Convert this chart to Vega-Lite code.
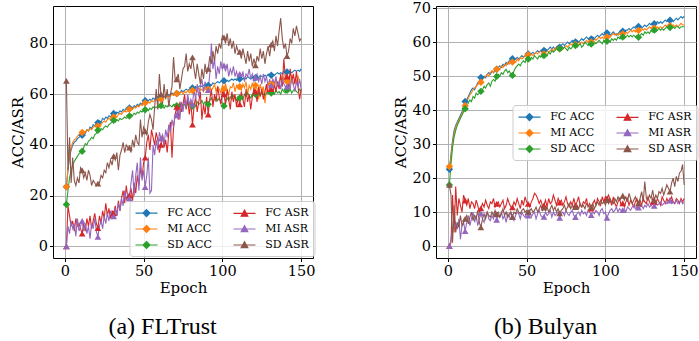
{
"$schema": "https://vega.github.io/schema/vega-lite/v6.json",
"padding": {"left": 9, "top": -1, "right": 0, "bottom": 0},
"background": "white",
"spacing": 76,
"config": {
  "view": {"stroke": "black", "strokeWidth": 1},
  "axis": {"labelFont": "DejaVu Serif", "labelFontSize": 14.5, "labelColor": "black", "titleFont": "DejaVu Serif", "titleFontSize": 15, "titleFontWeight": "normal", "titleColor": "black", "tickColor": "black", "tickSize": 3.5, "tickWidth": 1, "domain": false, "gridColor": "#b0b0b0", "gridWidth": 1, "gridOpacity": 1},
  "axisX": {"labelPadding": 3, "titlePadding": 2},
  "axisY": {"labelPadding": 2, "titlePadding": 4},
  "legend": {"orient": "none", "columns": 2, "title": null, "labelFont": "DejaVu Serif", "labelFontSize": 11, "labelColor": "black", "symbolSize": 144, "symbolStrokeWidth": 1.2, "symbolOpacity": 1, "fillColor": "rgba(255,255,255,0.8)", "strokeColor": "#cccccc", "padding": 5, "cornerRadius": 3, "rowPadding": 3, "columnPadding": 18, "labelOffset": 18.7}
},
"datasets": {
"fltrust": [
{"e":1,"FC ACC":23.5,"MI ACC":23.5,"SD ACC":16.5,"FC ASR":0,"MI ASR":0,"SD ASR":65.3},
{"e":2,"FC ACC":30,"MI ACC":31,"SD ACC":22,"FC ASR":16,"MI ASR":8,"SD ASR":30},
{"e":3,"FC ACC":35,"MI ACC":36,"SD ACC":27,"FC ASR":12,"MI ASR":5,"SD ASR":43},
{"e":4,"FC ACC":38,"MI ACC":39,"SD ACC":30,"FC ASR":8,"MI ASR":10,"SD ASR":25},
{"e":5,"FC ACC":40,"MI ACC":41,"SD ACC":32,"FC ASR":10,"MI ASR":7,"SD ASR":35},
{"e":6,"FC ACC":41,"MI ACC":42,"SD ACC":33.5,"FC ASR":6,"MI ASR":9,"SD ASR":26},
{"e":7,"FC ACC":41.5,"MI ACC":42.5,"SD ACC":34.5,"FC ASR":11,"MI ASR":4,"SD ASR":24},
{"e":8,"FC ACC":42.5,"MI ACC":43.5,"SD ACC":35.5,"FC ASR":8,"MI ASR":11,"SD ASR":27},
{"e":9,"FC ACC":43,"MI ACC":44,"SD ACC":36.5,"FC ASR":9,"MI ASR":6,"SD ASR":25},
{"e":10,"FC ACC":43.5,"MI ACC":44.5,"SD ACC":37,"FC ASR":7,"MI ASR":8,"SD ASR":31},
{"e":11,"FC ACC":43.8,"MI ACC":44.9,"SD ACC":37.5,"FC ASR":5,"MI ASR":10,"SD ASR":30},
{"e":12,"FC ACC":45,"MI ACC":45.5,"SD ACC":39,"FC ASR":9,"MI ASR":6,"SD ASR":27},
{"e":13,"FC ACC":44.5,"MI ACC":45,"SD ACC":40.5,"FC ASR":6,"MI ASR":9,"SD ASR":29},
{"e":14,"FC ACC":46,"MI ACC":46,"SD ACC":40,"FC ASR":11,"MI ASR":5,"SD ASR":26},
{"e":15,"FC ACC":45.5,"MI ACC":45.5,"SD ACC":41.5,"FC ASR":8,"MI ASR":8,"SD ASR":30},
{"e":16,"FC ACC":47,"MI ACC":46.5,"SD ACC":42,"FC ASR":12,"MI ASR":3,"SD ASR":28},
{"e":17,"FC ACC":46.5,"MI ACC":46,"SD ACC":43,"FC ASR":7,"MI ASR":9,"SD ASR":24},
{"e":18,"FC ACC":48,"MI ACC":47,"SD ACC":42.5,"FC ASR":10,"MI ASR":7,"SD ASR":26},
{"e":19,"FC ACC":47.5,"MI ACC":47.5,"SD ACC":44,"FC ASR":13,"MI ASR":11,"SD ASR":25},
{"e":20,"FC ACC":48.5,"MI ACC":47,"SD ACC":44.5,"FC ASR":9,"MI ASR":6,"SD ASR":24},
{"e":21,"FC ACC":48.8,"MI ACC":47.5,"SD ACC":45.8,"FC ASR":7.2,"MI ASR":3.7,"SD ASR":24.7},
{"e":22,"FC ACC":49.5,"MI ACC":48.5,"SD ACC":45.5,"FC ASR":12,"MI ASR":8,"SD ASR":25},
{"e":23,"FC ACC":49,"MI ACC":48,"SD ACC":46.5,"FC ASR":9,"MI ASR":10,"SD ASR":28},
{"e":24,"FC ACC":50.5,"MI ACC":49,"SD ACC":46,"FC ASR":14,"MI ASR":7,"SD ASR":27},
{"e":25,"FC ACC":50,"MI ACC":49.5,"SD ACC":47,"FC ASR":11,"MI ASR":12,"SD ASR":30},
{"e":26,"FC ACC":51,"MI ACC":49,"SD ACC":47.5,"FC ASR":17,"MI ASR":9,"SD ASR":29},
{"e":27,"FC ACC":50.5,"MI ACC":50,"SD ACC":47,"FC ASR":12,"MI ASR":13,"SD ASR":33},
{"e":28,"FC ACC":51.5,"MI ACC":50.5,"SD ACC":48,"FC ASR":15,"MI ASR":10,"SD ASR":31},
{"e":29,"FC ACC":51,"MI ACC":50,"SD ACC":48.5,"FC ASR":11,"MI ASR":14,"SD ASR":34},
{"e":30,"FC ACC":52,"MI ACC":51,"SD ACC":49,"FC ASR":14,"MI ASR":11,"SD ASR":32},
{"e":31,"FC ACC":52.4,"MI ACC":51,"SD ACC":49.7,"FC ASR":13,"MI ASR":11.8,"SD ASR":35.6},
{"e":32,"FC ACC":52,"MI ACC":51.5,"SD ACC":49,"FC ASR":16,"MI ASR":15,"SD ASR":34},
{"e":33,"FC ACC":53,"MI ACC":51,"SD ACC":50,"FC ASR":12,"MI ASR":12,"SD ASR":37},
{"e":34,"FC ACC":52.5,"MI ACC":52,"SD ACC":49.5,"FC ASR":18,"MI ASR":17,"SD ASR":30},
{"e":35,"FC ACC":53.5,"MI ACC":52.5,"SD ACC":50.5,"FC ASR":14,"MI ASR":14,"SD ASR":36},
{"e":36,"FC ACC":53,"MI ACC":52,"SD ACC":50,"FC ASR":19,"MI ASR":19,"SD ASR":38},
{"e":37,"FC ACC":54,"MI ACC":53,"SD ACC":50.5,"FC ASR":22,"MI ASR":16,"SD ASR":41},
{"e":38,"FC ACC":53.5,"MI ACC":53.5,"SD ACC":51,"FC ASR":17,"MI ASR":22,"SD ASR":37},
{"e":39,"FC ACC":54.5,"MI ACC":53,"SD ACC":50.5,"FC ASR":24,"MI ASR":18,"SD ASR":40},
{"e":40,"FC ACC":54,"MI ACC":53.5,"SD ACC":51,"FC ASR":19,"MI ASR":21,"SD ASR":39},
{"e":41,"FC ACC":54.6,"MI ACC":54.1,"SD ACC":51.4,"FC ASR":20,"MI ASR":18.8,"SD ASR":38.9},
{"e":42,"FC ACC":55,"MI ACC":54.5,"SD ACC":52,"FC ASR":23,"MI ASR":25,"SD ASR":37},
{"e":43,"FC ACC":54.5,"MI ACC":54,"SD ACC":51.5,"FC ASR":18,"MI ASR":30,"SD ASR":42},
{"e":44,"FC ACC":55.5,"MI ACC":55,"SD ACC":52.5,"FC ASR":25,"MI ASR":20,"SD ASR":39},
{"e":45,"FC ACC":55,"MI ACC":54.5,"SD ACC":52,"FC ASR":21,"MI ASR":28,"SD ASR":44},
{"e":46,"FC ACC":56,"MI ACC":55.5,"SD ACC":53,"FC ASR":28,"MI ASR":33,"SD ASR":41},
{"e":47,"FC ACC":55.5,"MI ACC":55,"SD ACC":52.5,"FC ASR":24,"MI ASR":22,"SD ASR":40},
{"e":48,"FC ACC":56.5,"MI ACC":56,"SD ACC":53.5,"FC ASR":31,"MI ASR":35,"SD ASR":50},
{"e":49,"FC ACC":56,"MI ACC":55.5,"SD ACC":53,"FC ASR":27,"MI ASR":26,"SD ASR":43},
{"e":50,"FC ACC":57,"MI ACC":56,"SD ACC":53.5,"FC ASR":33,"MI ASR":30,"SD ASR":47},
{"e":51,"FC ACC":57.4,"MI ACC":56.6,"SD ACC":53.9,"FC ASR":35,"MI ASR":23.4,"SD ASR":45.4},
{"e":52,"FC ACC":57,"MI ACC":56,"SD ACC":54,"FC ASR":41,"MI ASR":28,"SD ASR":44},
{"e":53,"FC ACC":57.5,"MI ACC":57,"SD ACC":53.5,"FC ASR":44,"MI ASR":35,"SD ASR":49},
{"e":54,"FC ACC":58,"MI ACC":56.5,"SD ACC":54.5,"FC ASR":38,"MI ASR":21,"SD ASR":52},
{"e":55,"FC ACC":57.5,"MI ACC":57.5,"SD ACC":54,"FC ASR":46,"MI ASR":22,"SD ASR":50},
{"e":56,"FC ACC":58.5,"MI ACC":57,"SD ACC":55,"FC ASR":43,"MI ASR":40,"SD ASR":46},
{"e":57,"FC ACC":58,"MI ACC":57.5,"SD ACC":54.5,"FC ASR":40,"MI ASR":36,"SD ASR":55},
{"e":58,"FC ACC":58.5,"MI ACC":58,"SD ACC":55,"FC ASR":45,"MI ASR":42,"SD ASR":62},
{"e":59,"FC ACC":59,"MI ACC":57.5,"SD ACC":54.5,"FC ASR":42,"MI ASR":38,"SD ASR":54},
{"e":60,"FC ACC":58.5,"MI ACC":58.5,"SD ACC":55,"FC ASR":37,"MI ASR":45,"SD ASR":68},
{"e":61,"FC ACC":59,"MI ACC":58,"SD ACC":55.5,"FC ASR":40,"MI ASR":42.5,"SD ASR":60},
{"e":62,"FC ACC":59.5,"MI ACC":58.5,"SD ACC":55,"FC ASR":44,"MI ASR":44,"SD ASR":56},
{"e":63,"FC ACC":59,"MI ACC":59,"SD ACC":54.5,"FC ASR":39,"MI ASR":40,"SD ASR":64},
{"e":64,"FC ACC":59.5,"MI ACC":58.5,"SD ACC":55.5,"FC ASR":42,"MI ASR":46,"SD ASR":58},
{"e":65,"FC ACC":60,"MI ACC":59.5,"SD ACC":55,"FC ASR":37,"MI ASR":43,"SD ASR":62},
{"e":66,"FC ACC":59.5,"MI ACC":59,"SD ACC":56,"FC ASR":45,"MI ASR":48,"SD ASR":55},
{"e":67,"FC ACC":60,"MI ACC":59.5,"SD ACC":55.5,"FC ASR":49,"MI ASR":45,"SD ASR":60},
{"e":68,"FC ACC":60.5,"MI ACC":60,"SD ACC":55,"FC ASR":35,"MI ASR":50,"SD ASR":63},
{"e":69,"FC ACC":60,"MI ACC":59.5,"SD ACC":56,"FC ASR":47,"MI ASR":47,"SD ASR":74.7},
{"e":70,"FC ACC":60.5,"MI ACC":60,"SD ACC":55.5,"FC ASR":52,"MI ASR":52,"SD ASR":66},
{"e":71,"FC ACC":60.3,"MI ACC":60.3,"SD ACC":55.5,"FC ASR":55,"MI ASR":51.7,"SD ASR":65.9},
{"e":72,"FC ACC":61,"MI ACC":59.5,"SD ACC":56,"FC ASR":50,"MI ASR":55,"SD ASR":68},
{"e":73,"FC ACC":60.5,"MI ACC":60.5,"SD ACC":55,"FC ASR":57,"MI ASR":50,"SD ASR":62},
{"e":74,"FC ACC":61.5,"MI ACC":61,"SD ACC":56.5,"FC ASR":53,"MI ASR":57,"SD ASR":66},
{"e":75,"FC ACC":61,"MI ACC":60,"SD ACC":55.5,"FC ASR":56,"MI ASR":53,"SD ASR":70},
{"e":76,"FC ACC":61.5,"MI ACC":61,"SD ACC":56,"FC ASR":60,"MI ASR":58,"SD ASR":71},
{"e":77,"FC ACC":62,"MI ACC":60.5,"SD ACC":55,"FC ASR":54,"MI ASR":55,"SD ASR":76},
{"e":78,"FC ACC":61.5,"MI ACC":61.5,"SD ACC":56.5,"FC ASR":58,"MI ASR":60,"SD ASR":69},
{"e":79,"FC ACC":62,"MI ACC":60.5,"SD ACC":56,"FC ASR":52,"MI ASR":56,"SD ASR":72},
{"e":80,"FC ACC":62.5,"MI ACC":61,"SD ACC":55.5,"FC ASR":57,"MI ASR":58,"SD ASR":70},
{"e":81,"FC ACC":62.5,"MI ACC":61.5,"SD ACC":55.3,"FC ASR":48,"MI ASR":56,"SD ASR":74.5},
{"e":82,"FC ACC":62,"MI ACC":60.5,"SD ACC":56,"FC ASR":55,"MI ASR":62,"SD ASR":70},
{"e":83,"FC ACC":63,"MI ACC":62,"SD ACC":55.5,"FC ASR":59,"MI ASR":58,"SD ASR":66},
{"e":84,"FC ACC":62.5,"MI ACC":61,"SD ACC":57,"FC ASR":53,"MI ASR":64,"SD ASR":72},
{"e":85,"FC ACC":63,"MI ACC":62.5,"SD ACC":56,"FC ASR":57,"MI ASR":59,"SD ASR":68},
{"e":86,"FC ACC":63.5,"MI ACC":61.5,"SD ACC":56.5,"FC ASR":61,"MI ASR":63,"SD ASR":64},
{"e":87,"FC ACC":63,"MI ACC":62,"SD ACC":57.5,"FC ASR":50,"MI ASR":66,"SD ASR":70},
{"e":88,"FC ACC":63.5,"MI ACC":61,"SD ACC":56,"FC ASR":56,"MI ASR":61,"SD ASR":66},
{"e":89,"FC ACC":64,"MI ACC":63,"SD ACC":57,"FC ASR":52,"MI ASR":65,"SD ASR":72},
{"e":90,"FC ACC":63.5,"MI ACC":62,"SD ACC":56.5,"FC ASR":59,"MI ASR":62,"SD ASR":68},
{"e":91,"FC ACC":63.5,"MI ACC":62,"SD ACC":56,"FC ASR":52,"MI ASR":61.6,"SD ASR":70},
{"e":92,"FC ACC":64,"MI ACC":63,"SD ACC":57.5,"FC ASR":58,"MI ASR":68,"SD ASR":75},
{"e":93,"FC ACC":63.5,"MI ACC":61.5,"SD ACC":58.5,"FC ASR":62,"MI ASR":80,"SD ASR":72},
{"e":94,"FC ACC":64.5,"MI ACC":62.5,"SD ACC":57,"FC ASR":55,"MI ASR":70,"SD ASR":77},
{"e":95,"FC ACC":64,"MI ACC":64,"SD ACC":58,"FC ASR":60,"MI ASR":74,"SD ASR":73},
{"e":96,"FC ACC":64.5,"MI ACC":61,"SD ACC":59,"FC ASR":57,"MI ASR":66,"SD ASR":79},
{"e":97,"FC ACC":65,"MI ACC":63,"SD ACC":57.5,"FC ASR":63,"MI ASR":71,"SD ASR":76},
{"e":98,"FC ACC":64.5,"MI ACC":62,"SD ACC":58.5,"FC ASR":59,"MI ASR":68,"SD ASR":80},
{"e":99,"FC ACC":65,"MI ACC":60.5,"SD ACC":57,"FC ASR":56,"MI ASR":73,"SD ASR":78},
{"e":100,"FC ACC":65.5,"MI ACC":63.5,"SD ACC":56.5,"FC ASR":61,"MI ASR":70,"SD ASR":83},
{"e":101,"FC ACC":65.3,"MI ACC":62,"SD ACC":55.4,"FC ASR":60,"MI ASR":71.4,"SD ASR":82.4},
{"e":102,"FC ACC":65,"MI ACC":64,"SD ACC":57,"FC ASR":56,"MI ASR":69,"SD ASR":80},
{"e":103,"FC ACC":65.5,"MI ACC":61.5,"SD ACC":58.5,"FC ASR":62,"MI ASR":72,"SD ASR":84},
{"e":104,"FC ACC":65,"MI ACC":60,"SD ACC":57.5,"FC ASR":58,"MI ASR":67,"SD ASR":79},
{"e":105,"FC ACC":65.5,"MI ACC":63,"SD ACC":59,"FC ASR":54,"MI ASR":70,"SD ASR":82},
{"e":106,"FC ACC":66,"MI ACC":62.5,"SD ACC":58,"FC ASR":61,"MI ASR":68,"SD ASR":78},
{"e":107,"FC ACC":65.5,"MI ACC":64.5,"SD ACC":59.5,"FC ASR":57,"MI ASR":71,"SD ASR":81},
{"e":108,"FC ACC":66,"MI ACC":61,"SD ACC":58.5,"FC ASR":60,"MI ASR":67,"SD ASR":76},
{"e":109,"FC ACC":65.5,"MI ACC":63.5,"SD ACC":57.5,"FC ASR":55,"MI ASR":69,"SD ASR":79},
{"e":110,"FC ACC":66,"MI ACC":62,"SD ACC":59,"FC ASR":59,"MI ASR":66,"SD ASR":77},
{"e":111,"FC ACC":66,"MI ACC":63,"SD ACC":58.5,"FC ASR":56,"MI ASR":68,"SD ASR":76.7},
{"e":112,"FC ACC":66.5,"MI ACC":61.5,"SD ACC":59.5,"FC ASR":61,"MI ASR":66,"SD ASR":74},
{"e":113,"FC ACC":66,"MI ACC":64,"SD ACC":58,"FC ASR":58,"MI ASR":69,"SD ASR":78},
{"e":114,"FC ACC":66.5,"MI ACC":62.5,"SD ACC":60,"FC ASR":55,"MI ASR":65,"SD ASR":75},
{"e":115,"FC ACC":66,"MI ACC":65,"SD ACC":59,"FC ASR":62,"MI ASR":68,"SD ASR":72},
{"e":116,"FC ACC":67,"MI ACC":60,"SD ACC":60.5,"FC ASR":57,"MI ASR":67,"SD ASR":77},
{"e":117,"FC ACC":66.5,"MI ACC":63.5,"SD ACC":59.5,"FC ASR":60,"MI ASR":70,"SD ASR":73},
{"e":118,"FC ACC":66,"MI ACC":62,"SD ACC":58.5,"FC ASR":54,"MI ASR":66,"SD ASR":76},
{"e":119,"FC ACC":66.5,"MI ACC":64.5,"SD ACC":60,"FC ASR":59,"MI ASR":68,"SD ASR":71},
{"e":120,"FC ACC":67,"MI ACC":61.5,"SD ACC":59.5,"FC ASR":62,"MI ASR":65,"SD ASR":74},
{"e":121,"FC ACC":66.5,"MI ACC":63.5,"SD ACC":60,"FC ASR":61,"MI ASR":66.6,"SD ASR":71.4},
{"e":122,"FC ACC":67,"MI ACC":62,"SD ACC":59,"FC ASR":57,"MI ASR":68,"SD ASR":75},
{"e":123,"FC ACC":66.5,"MI ACC":58,"SD ACC":60.5,"FC ASR":63,"MI ASR":65,"SD ASR":73},
{"e":124,"FC ACC":67.5,"MI ACC":64,"SD ACC":59.5,"FC ASR":59,"MI ASR":67,"SD ASR":78},
{"e":125,"FC ACC":67,"MI ACC":61.5,"SD ACC":61,"FC ASR":62,"MI ASR":64,"SD ASR":74},
{"e":126,"FC ACC":67,"MI ACC":63,"SD ACC":60,"FC ASR":58,"MI ASR":68,"SD ASR":77},
{"e":127,"FC ACC":67.5,"MI ACC":56.5,"SD ACC":59.5,"FC ASR":61,"MI ASR":65,"SD ASR":72},
{"e":128,"FC ACC":67,"MI ACC":62,"SD ACC":60.5,"FC ASR":64,"MI ASR":67,"SD ASR":76},
{"e":129,"FC ACC":68,"MI ACC":64.5,"SD ACC":61,"FC ASR":60,"MI ASR":63,"SD ASR":79},
{"e":130,"FC ACC":67.5,"MI ACC":63,"SD ACC":60,"FC ASR":63,"MI ASR":66,"SD ASR":75},
{"e":131,"FC ACC":67.5,"MI ACC":64,"SD ACC":60.5,"FC ASR":62,"MI ASR":63.5,"SD ASR":79.6},
{"e":132,"FC ACC":68,"MI ACC":65.5,"SD ACC":61,"FC ASR":60,"MI ASR":66,"SD ASR":81},
{"e":133,"FC ACC":67.5,"MI ACC":62.5,"SD ACC":60,"FC ASR":64,"MI ASR":64,"SD ASR":77},
{"e":134,"FC ACC":68,"MI ACC":66,"SD ACC":61.5,"FC ASR":61,"MI ASR":67,"SD ASR":83},
{"e":135,"FC ACC":68.5,"MI ACC":63.5,"SD ACC":60.5,"FC ASR":65,"MI ASR":63,"SD ASR":79},
{"e":136,"FC ACC":68,"MI ACC":65,"SD ACC":61,"FC ASR":62,"MI ASR":65,"SD ASR":85},
{"e":137,"FC ACC":68.5,"MI ACC":67,"SD ACC":60,"FC ASR":68,"MI ASR":62,"SD ASR":90},
{"e":138,"FC ACC":68,"MI ACC":64,"SD ACC":62,"FC ASR":63,"MI ASR":66,"SD ASR":82},
{"e":139,"FC ACC":69,"MI ACC":66.5,"SD ACC":61,"FC ASR":74,"MI ASR":64,"SD ASR":78},
{"e":140,"FC ACC":68.5,"MI ACC":65,"SD ACC":60.5,"FC ASR":66,"MI ASR":63,"SD ASR":80},
{"e":141,"FC ACC":68.8,"MI ACC":65,"SD ACC":61.6,"FC ASR":67,"MI ASR":63,"SD ASR":75},
{"e":142,"FC ACC":68.5,"MI ACC":66.5,"SD ACC":61,"FC ASR":62,"MI ASR":65,"SD ASR":77},
{"e":143,"FC ACC":69,"MI ACC":64,"SD ACC":62,"FC ASR":70,"MI ASR":62,"SD ASR":82},
{"e":144,"FC ACC":68.5,"MI ACC":67.5,"SD ACC":60.5,"FC ASR":65,"MI ASR":66,"SD ASR":80},
{"e":145,"FC ACC":69,"MI ACC":63.5,"SD ACC":61.5,"FC ASR":68,"MI ASR":64,"SD ASR":86},
{"e":146,"FC ACC":69.5,"MI ACC":66,"SD ACC":62,"FC ASR":64,"MI ASR":61,"SD ASR":83},
{"e":147,"FC ACC":69,"MI ACC":65,"SD ACC":61,"FC ASR":69,"MI ASR":65,"SD ASR":87},
{"e":148,"FC ACC":69.5,"MI ACC":67,"SD ACC":60.5,"FC ASR":63,"MI ASR":63,"SD ASR":84},
{"e":149,"FC ACC":69,"MI ACC":64.5,"SD ACC":62,"FC ASR":58,"MI ASR":66,"SD ASR":81},
{"e":150,"FC ACC":70,"MI ACC":64.5,"SD ACC":61,"FC ASR":62,"MI ASR":62,"SD ASR":82}
],
"bulyan": [
{"e":1,"FC ACC":22.6,"MI ACC":23.4,"SD ACC":18,"FC ASR":0,"MI ASR":0,"SD ASR":18},
{"e":2,"FC ACC":27,"MI ACC":26,"SD ACC":24,"FC ASR":1,"MI ASR":2,"SD ASR":15},
{"e":3,"FC ACC":31,"MI ACC":30,"SD ACC":29,"FC ASR":15,"MI ASR":5,"SD ASR":1},
{"e":4,"FC ACC":34,"MI ACC":33,"SD ACC":32,"FC ASR":4,"MI ASR":6,"SD ASR":12},
{"e":5,"FC ACC":35.5,"MI ACC":35,"SD ACC":34,"FC ASR":17.5,"MI ASR":7,"SD ASR":4},
{"e":6,"FC ACC":36.5,"MI ACC":36,"SD ACC":35.5,"FC ASR":9,"MI ASR":5,"SD ASR":7},
{"e":7,"FC ACC":37.5,"MI ACC":37,"SD ACC":36.5,"FC ASR":14,"MI ASR":8,"SD ASR":5.5},
{"e":8,"FC ACC":38.5,"MI ACC":38,"SD ACC":37.5,"FC ASR":12,"MI ASR":2,"SD ASR":9},
{"e":9,"FC ACC":39.5,"MI ACC":39,"SD ACC":38.5,"FC ASR":10,"MI ASR":6,"SD ASR":6},
{"e":10,"FC ACC":41,"MI ACC":40,"SD ACC":39.5,"FC ASR":15,"MI ASR":7,"SD ASR":7},
{"e":11,"FC ACC":42.5,"MI ACC":41.3,"SD ACC":40.4,"FC ASR":13.4,"MI ASR":4.4,"SD ASR":8},
{"e":12,"FC ACC":43,"MI ACC":42.5,"SD ACC":41.5,"FC ASR":12,"MI ASR":7,"SD ASR":9},
{"e":13,"FC ACC":44,"MI ACC":43.5,"SD ACC":42,"FC ASR":14,"MI ASR":9,"SD ASR":6.5},
{"e":14,"FC ACC":45,"MI ACC":44.5,"SD ACC":43,"FC ASR":11,"MI ASR":6,"SD ASR":8.5},
{"e":15,"FC ACC":46,"MI ACC":45,"SD ACC":42.5,"FC ASR":13,"MI ASR":8,"SD ASR":10},
{"e":16,"FC ACC":46.5,"MI ACC":46,"SD ACC":44,"FC ASR":12.5,"MI ASR":10,"SD ASR":7.5},
{"e":17,"FC ACC":46,"MI ACC":46.5,"SD ACC":43.5,"FC ASR":11,"MI ASR":7,"SD ASR":9},
{"e":18,"FC ACC":47,"MI ACC":47,"SD ACC":45,"FC ASR":13.5,"MI ASR":9,"SD ASR":8},
{"e":19,"FC ACC":48,"MI ACC":47.5,"SD ACC":44.5,"FC ASR":12,"MI ASR":6,"SD ASR":10.5},
{"e":20,"FC ACC":48.5,"MI ACC":48,"SD ACC":45,"FC ASR":10,"MI ASR":8,"SD ASR":7},
{"e":21,"FC ACC":49.6,"MI ACC":48.2,"SD ACC":45.5,"FC ASR":11.1,"MI ASR":9.6,"SD ASR":5.5},
{"e":22,"FC ACC":49.5,"MI ACC":49,"SD ACC":46,"FC ASR":12.5,"MI ASR":8,"SD ASR":8},
{"e":23,"FC ACC":50,"MI ACC":49.5,"SD ACC":47,"FC ASR":11.5,"MI ASR":7,"SD ASR":9.5},
{"e":24,"FC ACC":49.5,"MI ACC":50,"SD ACC":46.5,"FC ASR":13.5,"MI ASR":9,"SD ASR":8},
{"e":25,"FC ACC":50.5,"MI ACC":50.5,"SD ACC":47.5,"FC ASR":12,"MI ASR":10,"SD ASR":10},
{"e":26,"FC ACC":51,"MI ACC":50,"SD ACC":48,"FC ASR":11,"MI ASR":8,"SD ASR":9},
{"e":27,"FC ACC":50.5,"MI ACC":51,"SD ACC":47,"FC ASR":13,"MI ASR":7.5,"SD ASR":8.5},
{"e":28,"FC ACC":51.5,"MI ACC":51.5,"SD ACC":48.5,"FC ASR":12.5,"MI ASR":9,"SD ASR":10},
{"e":29,"FC ACC":51,"MI ACC":51,"SD ACC":49,"FC ASR":14,"MI ASR":8,"SD ASR":9},
{"e":30,"FC ACC":51.5,"MI ACC":52,"SD ACC":48.5,"FC ASR":11.5,"MI ASR":10,"SD ASR":10.5},
{"e":31,"FC ACC":52,"MI ACC":52,"SD ACC":49.9,"FC ASR":12.4,"MI ASR":7.7,"SD ASR":9.4},
{"e":32,"FC ACC":52.5,"MI ACC":52.5,"SD ACC":50.5,"FC ASR":13,"MI ASR":9,"SD ASR":10},
{"e":33,"FC ACC":53,"MI ACC":52,"SD ACC":50,"FC ASR":11.5,"MI ASR":8.5,"SD ASR":8.5},
{"e":34,"FC ACC":52.5,"MI ACC":53,"SD ACC":51,"FC ASR":12.5,"MI ASR":10,"SD ASR":9.5},
{"e":35,"FC ACC":53.5,"MI ACC":52.5,"SD ACC":50.5,"FC ASR":13.5,"MI ASR":8,"SD ASR":11},
{"e":36,"FC ACC":53,"MI ACC":53.5,"SD ACC":51.5,"FC ASR":11,"MI ASR":9,"SD ASR":9},
{"e":37,"FC ACC":54,"MI ACC":53,"SD ACC":52,"FC ASR":12,"MI ASR":7,"SD ASR":10},
{"e":38,"FC ACC":53.5,"MI ACC":54,"SD ACC":51,"FC ASR":14,"MI ASR":9.5,"SD ASR":8.5},
{"e":39,"FC ACC":54.5,"MI ACC":53.5,"SD ACC":51.5,"FC ASR":12.5,"MI ASR":8.5,"SD ASR":9.5},
{"e":40,"FC ACC":54,"MI ACC":54,"SD ACC":50.5,"FC ASR":11.5,"MI ASR":10,"SD ASR":10},
{"e":41,"FC ACC":55.1,"MI ACC":54.1,"SD ACC":50.2,"FC ASR":11.4,"MI ASR":8.5,"SD ASR":8.6},
{"e":42,"FC ACC":54.5,"MI ACC":54.5,"SD ACC":51.5,"FC ASR":13,"MI ASR":7.5,"SD ASR":10},
{"e":43,"FC ACC":55,"MI ACC":54,"SD ACC":52.5,"FC ASR":12,"MI ASR":9,"SD ASR":9.5},
{"e":44,"FC ACC":55.5,"MI ACC":55,"SD ACC":53,"FC ASR":14,"MI ASR":10,"SD ASR":11},
{"e":45,"FC ACC":55,"MI ACC":54.5,"SD ACC":53.5,"FC ASR":12.5,"MI ASR":9.5,"SD ASR":10},
{"e":46,"FC ACC":55.5,"MI ACC":55.5,"SD ACC":53,"FC ASR":11,"MI ASR":8,"SD ASR":9.5},
{"e":47,"FC ACC":56,"MI ACC":55,"SD ACC":54,"FC ASR":13.5,"MI ASR":10,"SD ASR":10.5},
{"e":48,"FC ACC":55.5,"MI ACC":55.5,"SD ACC":54.5,"FC ASR":12,"MI ASR":9,"SD ASR":11},
{"e":49,"FC ACC":56,"MI ACC":56,"SD ACC":54,"FC ASR":14.5,"MI ASR":8.5,"SD ASR":10},
{"e":50,"FC ACC":56.5,"MI ACC":55.5,"SD ACC":55,"FC ASR":13,"MI ASR":10,"SD ASR":10.5},
{"e":51,"FC ACC":56.5,"MI ACC":56.3,"SD ACC":55,"FC ASR":12.4,"MI ASR":9,"SD ASR":10},
{"e":52,"FC ACC":56,"MI ACC":56,"SD ACC":54.5,"FC ASR":11.5,"MI ASR":10.5,"SD ASR":10.5},
{"e":53,"FC ACC":56.5,"MI ACC":56.5,"SD ACC":55.5,"FC ASR":13,"MI ASR":8.5,"SD ASR":11},
{"e":54,"FC ACC":57,"MI ACC":56,"SD ACC":55,"FC ASR":14,"MI ASR":9.5,"SD ASR":10},
{"e":55,"FC ACC":56.5,"MI ACC":56.5,"SD ACC":56,"FC ASR":15.5,"MI ASR":10,"SD ASR":10.5},
{"e":56,"FC ACC":57,"MI ACC":57,"SD ACC":55.5,"FC ASR":15,"MI ASR":8,"SD ASR":11.5},
{"e":57,"FC ACC":57.5,"MI ACC":56.5,"SD ACC":55,"FC ASR":14,"MI ASR":9.5,"SD ASR":10},
{"e":58,"FC ACC":57,"MI ACC":57,"SD ACC":56,"FC ASR":12.5,"MI ASR":10.5,"SD ASR":11},
{"e":59,"FC ACC":57.5,"MI ACC":57.5,"SD ACC":55.5,"FC ASR":13.5,"MI ASR":9,"SD ASR":12},
{"e":60,"FC ACC":57,"MI ACC":57,"SD ACC":56.5,"FC ASR":12,"MI ASR":8.5,"SD ASR":10.5},
{"e":61,"FC ACC":57.5,"MI ACC":56.5,"SD ACC":56,"FC ASR":12,"MI ASR":8.6,"SD ASR":11.3},
{"e":62,"FC ACC":58,"MI ACC":57,"SD ACC":56.5,"FC ASR":13.5,"MI ASR":10,"SD ASR":10.5},
{"e":63,"FC ACC":57.5,"MI ACC":57.5,"SD ACC":56,"FC ASR":11.5,"MI ASR":9,"SD ASR":11.5},
{"e":64,"FC ACC":58,"MI ACC":57,"SD ACC":57,"FC ASR":14,"MI ASR":9.5,"SD ASR":10},
{"e":65,"FC ACC":58.5,"MI ACC":57.5,"SD ACC":56.5,"FC ASR":12.5,"MI ASR":10.5,"SD ASR":11},
{"e":66,"FC ACC":58,"MI ACC":58,"SD ACC":57.5,"FC ASR":13,"MI ASR":8.5,"SD ASR":12},
{"e":67,"FC ACC":58.5,"MI ACC":57.5,"SD ACC":57,"FC ASR":15,"MI ASR":10,"SD ASR":10.5},
{"e":68,"FC ACC":58,"MI ACC":58,"SD ACC":57.5,"FC ASR":13.5,"MI ASR":9,"SD ASR":11.5},
{"e":69,"FC ACC":58.5,"MI ACC":58.5,"SD ACC":58,"FC ASR":12,"MI ASR":9.5,"SD ASR":10},
{"e":70,"FC ACC":59,"MI ACC":58,"SD ACC":57.5,"FC ASR":14,"MI ASR":10,"SD ASR":11},
{"e":71,"FC ACC":58.5,"MI ACC":58,"SD ACC":58,"FC ASR":12.8,"MI ASR":8.3,"SD ASR":9.6},
{"e":72,"FC ACC":59,"MI ACC":58.5,"SD ACC":57.5,"FC ASR":13.5,"MI ASR":9.5,"SD ASR":10.5},
{"e":73,"FC ACC":59.5,"MI ACC":58,"SD ACC":58,"FC ASR":12,"MI ASR":10,"SD ASR":11},
{"e":74,"FC ACC":59,"MI ACC":58.5,"SD ACC":58.5,"FC ASR":13,"MI ASR":9,"SD ASR":12},
{"e":75,"FC ACC":59.5,"MI ACC":59,"SD ACC":58,"FC ASR":14.5,"MI ASR":10.5,"SD ASR":10.5},
{"e":76,"FC ACC":60,"MI ACC":58.5,"SD ACC":57.5,"FC ASR":12.5,"MI ASR":9.5,"SD ASR":11.5},
{"e":77,"FC ACC":59.5,"MI ACC":59,"SD ACC":58.5,"FC ASR":11.5,"MI ASR":9,"SD ASR":12.5},
{"e":78,"FC ACC":60,"MI ACC":59.5,"SD ACC":58,"FC ASR":13,"MI ASR":10,"SD ASR":11},
{"e":79,"FC ACC":60.5,"MI ACC":59,"SD ACC":58.5,"FC ASR":12,"MI ASR":10.5,"SD ASR":12},
{"e":80,"FC ACC":60,"MI ACC":59.5,"SD ACC":59,"FC ASR":14,"MI ASR":9,"SD ASR":11.5},
{"e":81,"FC ACC":60,"MI ACC":59.3,"SD ACC":59,"FC ASR":12,"MI ASR":8.5,"SD ASR":11.5},
{"e":82,"FC ACC":60.5,"MI ACC":59.5,"SD ACC":58.5,"FC ASR":13,"MI ASR":9.5,"SD ASR":12},
{"e":83,"FC ACC":60,"MI ACC":60,"SD ACC":59,"FC ASR":14.5,"MI ASR":10,"SD ASR":11},
{"e":84,"FC ACC":60.5,"MI ACC":59.5,"SD ACC":59.5,"FC ASR":12,"MI ASR":9,"SD ASR":12.5},
{"e":85,"FC ACC":61,"MI ACC":60,"SD ACC":58.5,"FC ASR":11.5,"MI ASR":10.5,"SD ASR":11.5},
{"e":86,"FC ACC":60.5,"MI ACC":59.5,"SD ACC":59,"FC ASR":13,"MI ASR":9.5,"SD ASR":12},
{"e":87,"FC ACC":61,"MI ACC":60,"SD ACC":60,"FC ASR":12.5,"MI ASR":10,"SD ASR":11},
{"e":88,"FC ACC":61.5,"MI ACC":60.5,"SD ACC":59.5,"FC ASR":14,"MI ASR":9,"SD ASR":12.5},
{"e":89,"FC ACC":61,"MI ACC":60,"SD ACC":59,"FC ASR":11.5,"MI ASR":10.5,"SD ASR":12},
{"e":90,"FC ACC":61,"MI ACC":60.5,"SD ACC":60,"FC ASR":12.5,"MI ASR":10,"SD ASR":11.5},
{"e":91,"FC ACC":60.9,"MI ACC":60,"SD ACC":59.4,"FC ASR":11,"MI ASR":9.1,"SD ASR":11.5},
{"e":92,"FC ACC":61.5,"MI ACC":60.5,"SD ACC":59,"FC ASR":12.5,"MI ASR":10,"SD ASR":12.5},
{"e":93,"FC ACC":61,"MI ACC":61,"SD ACC":60,"FC ASR":13.5,"MI ASR":9.5,"SD ASR":11},
{"e":94,"FC ACC":61.5,"MI ACC":60.5,"SD ACC":59.5,"FC ASR":12,"MI ASR":10.5,"SD ASR":12},
{"e":95,"FC ACC":62,"MI ACC":61,"SD ACC":60,"FC ASR":14,"MI ASR":10,"SD ASR":13},
{"e":96,"FC ACC":61.5,"MI ACC":61.5,"SD ACC":60.5,"FC ASR":13,"MI ASR":9,"SD ASR":12},
{"e":97,"FC ACC":62,"MI ACC":61,"SD ACC":60,"FC ASR":12,"MI ASR":10.5,"SD ASR":13.5},
{"e":98,"FC ACC":62.5,"MI ACC":61.5,"SD ACC":59.5,"FC ASR":14.5,"MI ASR":11,"SD ASR":12.5},
{"e":99,"FC ACC":62,"MI ACC":61,"SD ACC":60.5,"FC ASR":13,"MI ASR":9.5,"SD ASR":13},
{"e":100,"FC ACC":62.5,"MI ACC":61.5,"SD ACC":60,"FC ASR":14.5,"MI ASR":10,"SD ASR":12},
{"e":101,"FC ACC":62.7,"MI ACC":61.5,"SD ACC":60.2,"FC ASR":14,"MI ASR":8.3,"SD ASR":13.5},
{"e":102,"FC ACC":62.5,"MI ACC":62,"SD ACC":60.5,"FC ASR":15,"MI ASR":9.5,"SD ASR":12.5},
{"e":103,"FC ACC":62,"MI ACC":61.5,"SD ACC":60,"FC ASR":13.5,"MI ASR":10.5,"SD ASR":14},
{"e":104,"FC ACC":62.5,"MI ACC":62,"SD ACC":61,"FC ASR":12,"MI ASR":11,"SD ASR":13},
{"e":105,"FC ACC":63,"MI ACC":62.5,"SD ACC":60.5,"FC ASR":14.5,"MI ASR":10,"SD ASR":12.5},
{"e":106,"FC ACC":62.5,"MI ACC":62,"SD ACC":61,"FC ASR":12.5,"MI ASR":10.5,"SD ASR":14},
{"e":107,"FC ACC":62,"MI ACC":62.5,"SD ACC":60.5,"FC ASR":11.5,"MI ASR":11.5,"SD ASR":13},
{"e":108,"FC ACC":62.5,"MI ACC":62,"SD ACC":61.5,"FC ASR":13,"MI ASR":10,"SD ASR":14.5},
{"e":109,"FC ACC":63,"MI ACC":62.5,"SD ACC":61,"FC ASR":14,"MI ASR":11,"SD ASR":13.5},
{"e":110,"FC ACC":63.5,"MI ACC":63,"SD ACC":61,"FC ASR":12,"MI ASR":10.5,"SD ASR":14},
{"e":111,"FC ACC":63.2,"MI ACC":62.4,"SD ACC":61.5,"FC ASR":12.6,"MI ASR":10.6,"SD ASR":14.8},
{"e":112,"FC ACC":63,"MI ACC":62.5,"SD ACC":61,"FC ASR":11.5,"MI ASR":11,"SD ASR":13.5},
{"e":113,"FC ACC":63.5,"MI ACC":63,"SD ACC":61.5,"FC ASR":13,"MI ASR":10,"SD ASR":14.5},
{"e":114,"FC ACC":63.5,"MI ACC":62.5,"SD ACC":62,"FC ASR":14,"MI ASR":11.5,"SD ASR":13},
{"e":115,"FC ACC":64,"MI ACC":63,"SD ACC":61.5,"FC ASR":12,"MI ASR":11,"SD ASR":15.5},
{"e":116,"FC ACC":63.5,"MI ACC":63.5,"SD ACC":62,"FC ASR":13.5,"MI ASR":10.5,"SD ASR":14},
{"e":117,"FC ACC":64,"MI ACC":63,"SD ACC":61.5,"FC ASR":12.5,"MI ASR":11.5,"SD ASR":12.5},
{"e":118,"FC ACC":64.5,"MI ACC":63.5,"SD ACC":62,"FC ASR":11.5,"MI ASR":12,"SD ASR":13.5},
{"e":119,"FC ACC":64,"MI ACC":63,"SD ACC":61.5,"FC ASR":13,"MI ASR":11,"SD ASR":14.5},
{"e":120,"FC ACC":64.5,"MI ACC":63.5,"SD ACC":62,"FC ASR":14,"MI ASR":11.5,"SD ASR":13},
{"e":121,"FC ACC":64.6,"MI ACC":63.4,"SD ACC":61.4,"FC ASR":12.5,"MI ASR":11.3,"SD ASR":12.6},
{"e":122,"FC ACC":64.5,"MI ACC":63.5,"SD ACC":62,"FC ASR":13.5,"MI ASR":11.5,"SD ASR":14},
{"e":123,"FC ACC":64,"MI ACC":64,"SD ACC":62.5,"FC ASR":12,"MI ASR":12,"SD ASR":16},
{"e":124,"FC ACC":64.5,"MI ACC":63.5,"SD ACC":62,"FC ASR":14,"MI ASR":11,"SD ASR":13},
{"e":125,"FC ACC":65,"MI ACC":64,"SD ACC":63,"FC ASR":13,"MI ASR":12,"SD ASR":19},
{"e":126,"FC ACC":64.5,"MI ACC":63.5,"SD ACC":62.5,"FC ASR":12.5,"MI ASR":11.5,"SD ASR":14},
{"e":127,"FC ACC":65,"MI ACC":64,"SD ACC":63,"FC ASR":14.5,"MI ASR":12.5,"SD ASR":13.5},
{"e":128,"FC ACC":65.5,"MI ACC":64.5,"SD ACC":62.5,"FC ASR":13,"MI ASR":11.5,"SD ASR":15},
{"e":129,"FC ACC":65,"MI ACC":64,"SD ACC":63.5,"FC ASR":12,"MI ASR":12,"SD ASR":14},
{"e":130,"FC ACC":65.5,"MI ACC":64.5,"SD ACC":63,"FC ASR":14,"MI ASR":12.5,"SD ASR":16.5},
{"e":131,"FC ACC":65.4,"MI ACC":64.1,"SD ACC":63.5,"FC ASR":13,"MI ASR":11.8,"SD ASR":13.5},
{"e":132,"FC ACC":65.5,"MI ACC":64,"SD ACC":63,"FC ASR":12.5,"MI ASR":12.5,"SD ASR":15},
{"e":133,"FC ACC":66,"MI ACC":64.5,"SD ACC":63.5,"FC ASR":14,"MI ASR":12,"SD ASR":14},
{"e":134,"FC ACC":65.5,"MI ACC":64,"SD ACC":64,"FC ASR":13,"MI ASR":12.5,"SD ASR":16},
{"e":135,"FC ACC":66,"MI ACC":64.5,"SD ACC":63.5,"FC ASR":12,"MI ASR":13,"SD ASR":15.5},
{"e":136,"FC ACC":65.5,"MI ACC":64,"SD ACC":64,"FC ASR":14.5,"MI ASR":12,"SD ASR":17},
{"e":137,"FC ACC":66,"MI ACC":64.5,"SD ACC":63.5,"FC ASR":13.5,"MI ASR":12.5,"SD ASR":15},
{"e":138,"FC ACC":66.5,"MI ACC":65,"SD ACC":64,"FC ASR":12.5,"MI ASR":13,"SD ASR":16.5},
{"e":139,"FC ACC":66,"MI ACC":64.5,"SD ACC":64.5,"FC ASR":14,"MI ASR":12.5,"SD ASR":18},
{"e":140,"FC ACC":66.5,"MI ACC":64.5,"SD ACC":64,"FC ASR":13,"MI ASR":13,"SD ASR":17},
{"e":141,"FC ACC":66.4,"MI ACC":64.8,"SD ACC":64.3,"FC ASR":13.5,"MI ASR":13.4,"SD ASR":16},
{"e":142,"FC ACC":66.5,"MI ACC":64.5,"SD ACC":64,"FC ASR":14.5,"MI ASR":12.5,"SD ASR":18.5},
{"e":143,"FC ACC":66,"MI ACC":65,"SD ACC":64.5,"FC ASR":13,"MI ASR":13,"SD ASR":20},
{"e":144,"FC ACC":66.5,"MI ACC":64.5,"SD ACC":64,"FC ASR":12.5,"MI ASR":12.5,"SD ASR":17.5},
{"e":145,"FC ACC":67,"MI ACC":65,"SD ACC":64.5,"FC ASR":14,"MI ASR":13.5,"SD ASR":20.5},
{"e":146,"FC ACC":66.5,"MI ACC":64.5,"SD ACC":64.5,"FC ASR":13.5,"MI ASR":12.5,"SD ASR":19},
{"e":147,"FC ACC":67,"MI ACC":65,"SD ACC":64,"FC ASR":12.5,"MI ASR":13,"SD ASR":21.5},
{"e":148,"FC ACC":67.5,"MI ACC":65.5,"SD ACC":64.5,"FC ASR":14,"MI ASR":13.5,"SD ASR":22},
{"e":149,"FC ACC":67,"MI ACC":65,"SD ACC":64.5,"FC ASR":13,"MI ASR":12.5,"SD ASR":24},
{"e":150,"FC ACC":67.6,"MI ACC":65,"SD ACC":64.5,"FC ASR":14,"MI ASR":12.8,"SD ASR":18}
]
},
"resolve": {"scale": {"color": "independent"}, "legend": {"color": "independent"}},
"hconcat": [
{
  "width": 260, "height": 252,
  "data": {"name": "fltrust"},
  "title": {"text": "(a) FLTrust", "orient": "bottom", "frame": "bounds", "anchor": "middle", "offset": 20, "font": "Liberation Serif, Times New Roman, serif", "fontSize": 24, "fontWeight": "normal", "color": "black"},
  "transform": [{"fold": ["FC ACC","MI ACC","SD ACC","FC ASR","MI ASR","SD ASR"], "as": ["series","value"]}],
  "encoding": {
    "x": {"field": "e", "type": "quantitative", "scale": {"domain": [-7.5, 157.5], "nice": false, "zero": false}, "axis": {"values": [0,50,100,150], "title": "Epoch"}},
    "y": {"field": "value", "type": "quantitative", "scale": {"domain": [-4.6, 94.8], "nice": false, "zero": false}, "axis": {"values": [0,20,40,60,80], "title": "ACC/ASR"}}
  },
  "layer": [
    {"mark": {"type": "line", "strokeWidth": 1.1},
     "encoding": {"color": {"field": "series", "type": "nominal", "scale": {"domain": ["FC ACC","MI ACC","SD ACC","FC ASR","MI ASR","SD ASR"], "range": ["#1f77b4","#ff7f0e","#2ca02c","#d62728","#9467bd","#8c564b"]},
         "legend": {"legendX": 76.5, "legendY": 195,
           "encode": {"symbols": {"update": {
             "shape": {"signal": "indexof(datum.value,'ACC')>=0 ? 'M-1,0H2.667M0.833,-0.583L1.417,0L0.833,0.583L0.25,0Z' : 'M-1,0H2.667M0.833,-0.55L1.383,0.45L0.283,0.45Z'"},
             "fill": {"signal": "datum.value=='FC ACC'?'#1f77b4':datum.value=='MI ACC'?'#ff7f0e':datum.value=='SD ACC'?'#2ca02c':datum.value=='FC ASR'?'#d62728':datum.value=='MI ASR'?'#9467bd':'#8c564b'"}
           }}}}}}},
    {"transform": [{"filter": "datum.e % 10 == 1 && indexof(datum.series,'ACC') >= 0"}],
     "mark": {"type": "point", "shape": "diamond", "filled": true, "size": 55, "opacity": 1},
     "encoding": {"color": {"field": "series", "type": "nominal", "scale": {"domain": ["FC ACC","MI ACC","SD ACC","FC ASR","MI ASR","SD ASR"], "range": ["#1f77b4","#ff7f0e","#2ca02c","#d62728","#9467bd","#8c564b"]}, "legend": null}}},
    {"transform": [{"filter": "datum.e % 10 == 1 && indexof(datum.series,'ASR') >= 0"}],
     "mark": {"type": "point", "shape": "triangle-up", "filled": true, "size": 45, "opacity": 1},
     "encoding": {"color": {"field": "series", "type": "nominal", "scale": {"domain": ["FC ACC","MI ACC","SD ACC","FC ASR","MI ASR","SD ASR"], "range": ["#1f77b4","#ff7f0e","#2ca02c","#d62728","#9467bd","#8c564b"]}, "legend": null}}}
  ]
},
{
  "width": 260, "height": 252,
  "data": {"name": "bulyan"},
  "title": {"text": "(b) Bulyan", "orient": "bottom", "frame": "bounds", "anchor": "middle", "offset": 20, "font": "Liberation Serif, Times New Roman, serif", "fontSize": 24, "fontWeight": "normal", "color": "black"},
  "transform": [{"fold": ["FC ACC","MI ACC","SD ACC","FC ASR","MI ASR","SD ASR"], "as": ["series","value"]}],
  "encoding": {
    "x": {"field": "e", "type": "quantitative", "scale": {"domain": [-7.5, 157.5], "nice": false, "zero": false}, "axis": {"values": [0,50,100,150], "title": "Epoch"}},
    "y": {"field": "value", "type": "quantitative", "scale": {"domain": [-3.5, 70.6], "nice": false, "zero": false}, "axis": {"values": [0,10,20,30,40,50,60,70], "title": "ACC/ASR"}}
  },
  "layer": [
    {"mark": {"type": "line", "strokeWidth": 1.1},
     "encoding": {"color": {"field": "series", "type": "nominal", "scale": {"domain": ["FC ACC","MI ACC","SD ACC","FC ASR","MI ASR","SD ASR"], "range": ["#1f77b4","#ff7f0e","#2ca02c","#d62728","#9467bd","#8c564b"]},
         "legend": {"legendX": 76.5, "legendY": 99,
           "encode": {"symbols": {"update": {
             "shape": {"signal": "indexof(datum.value,'ACC')>=0 ? 'M-1,0H2.667M0.833,-0.583L1.417,0L0.833,0.583L0.25,0Z' : 'M-1,0H2.667M0.833,-0.55L1.383,0.45L0.283,0.45Z'"},
             "fill": {"signal": "datum.value=='FC ACC'?'#1f77b4':datum.value=='MI ACC'?'#ff7f0e':datum.value=='SD ACC'?'#2ca02c':datum.value=='FC ASR'?'#d62728':datum.value=='MI ASR'?'#9467bd':'#8c564b'"}
           }}}}}}},
    {"transform": [{"filter": "datum.e % 10 == 1 && indexof(datum.series,'ACC') >= 0"}],
     "mark": {"type": "point", "shape": "diamond", "filled": true, "size": 55, "opacity": 1},
     "encoding": {"color": {"field": "series", "type": "nominal", "scale": {"domain": ["FC ACC","MI ACC","SD ACC","FC ASR","MI ASR","SD ASR"], "range": ["#1f77b4","#ff7f0e","#2ca02c","#d62728","#9467bd","#8c564b"]}, "legend": null}}},
    {"transform": [{"filter": "datum.e % 10 == 1 && indexof(datum.series,'ASR') >= 0"}],
     "mark": {"type": "point", "shape": "triangle-up", "filled": true, "size": 45, "opacity": 1},
     "encoding": {"color": {"field": "series", "type": "nominal", "scale": {"domain": ["FC ACC","MI ACC","SD ACC","FC ASR","MI ASR","SD ASR"], "range": ["#1f77b4","#ff7f0e","#2ca02c","#d62728","#9467bd","#8c564b"]}, "legend": null}}}
  ]
}
]
}
